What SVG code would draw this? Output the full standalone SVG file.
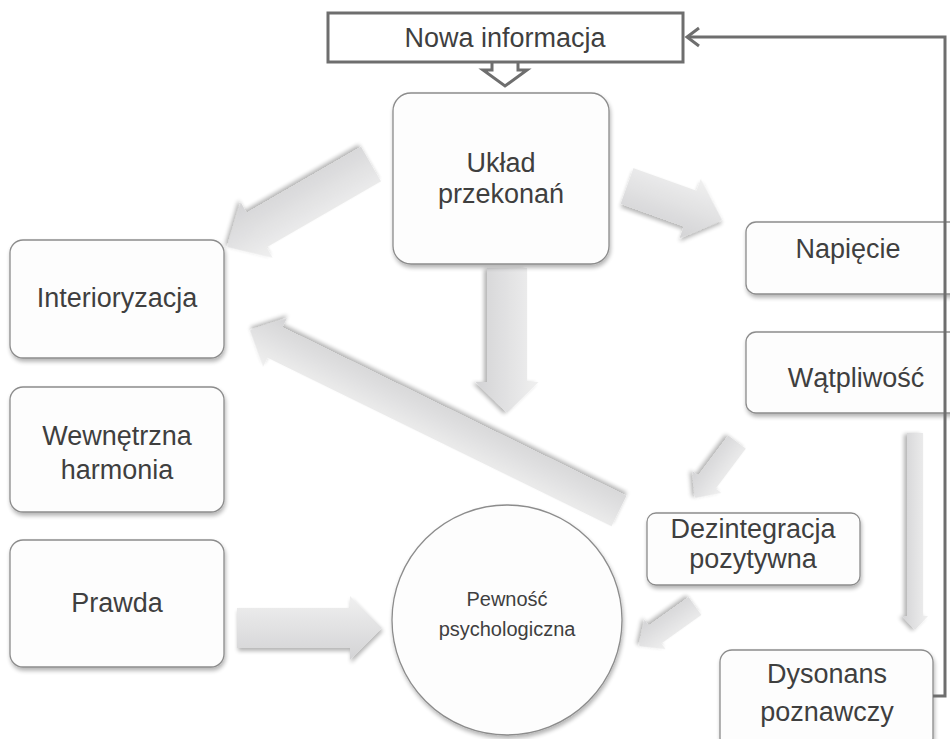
<svg xmlns="http://www.w3.org/2000/svg" width="950" height="739" viewBox="0 0 950 739">
  <defs>
    <linearGradient id="arrowFill" x1="0" y1="0" x2="0" y2="1">
      <stop offset="0" stop-color="#f0f0f0"/>
      <stop offset="1" stop-color="#d3d3d5"/>
    </linearGradient>
    <filter id="softShadow" x="-20%" y="-20%" width="140%" height="140%">
      <feGaussianBlur in="SourceAlpha" stdDeviation="2"/>
      <feOffset dx="1" dy="3" result="blur"/>
      <feComponentTransfer><feFuncA type="linear" slope="0.3"/></feComponentTransfer>
      <feMerge><feMergeNode/><feMergeNode in="SourceGraphic"/></feMerge>
    </filter>
  </defs>
  <style>
    .box { fill: #fdfdfd; stroke: #8c8c8c; stroke-width: 1.3; filter: url(#softShadow); }
    .label { font-family: "Liberation Sans", Arial, sans-serif; font-size: 27px; fill: #3f3f3f; text-anchor: middle; }
    .small { font-size: 20px; }
    .block { fill: url(#arrowFill); filter: url(#softShadow); }
    .dark { fill: none; stroke: #6e6e6e; stroke-width: 3; }
  </style>

  <rect width="950" height="739" fill="#ffffff"/>

  <!-- block arrows and the hollow arrow -->
  <g id="connectors">
    <path d="M492,62 V70 H483 L505,86 L527,70 H518 V62" fill="#ffffff" stroke="#6e6e6e" stroke-width="3" stroke-linejoin="miter"/>
    <polygon class="block" transform="translate(371,164) rotate(150)" points="0,-20 132,-20 132,-32 166,0 132,32 132,20 0,20"/>
    <polygon class="block" transform="translate(627,186) rotate(19.7)" points="0,-19 67,-19 67,-31.5 101,0 67,31.5 67,19 0,19"/>
    <polygon class="block" transform="translate(507,268) rotate(90)" points="0,-20 114,-20 114,-31.5 145,0 114,31.5 114,20 0,20"/>
    <polygon class="block" transform="translate(619,511) rotate(-153.9)" points="0,-17 383,-17 383,-27 411,0 383,27 383,17 0,17"/>
    <polygon class="block" transform="translate(737,442) rotate(126.9)" points="0,-11 50,-11 50,-18 70,0 50,18 50,11 0,11"/>
    <polygon class="block" transform="translate(695,606) rotate(144.5)" points="0,-11 49,-11 49,-18 69,0 49,18 49,11 0,11"/>
    <polygon class="block" transform="translate(237,628)" points="0,-20 113,-20 113,-32 145,0 113,32 113,20 0,20"/>
    <polygon class="block" transform="translate(915,433) rotate(90)" points="0,-8 183,-8 183,-13 197,0 183,13 183,8 0,8"/>
  </g>

  <g id="nowa-informacja">
    <rect x="328" y="13" width="355" height="49" fill="#ffffff" stroke="#6e6e6e" stroke-width="3"/>
    <text class="label" x="505" y="47" font-size="26">Nowa informacja</text>
  </g>

  <g id="uklad-przekonan">
    <rect class="box" x="393" y="93" width="216" height="171" rx="18"/>
    <text class="label" x="501" y="172">Układ</text>
    <text class="label" x="501" y="203">przekonań</text>
  </g>

  <g id="interioryzacja">
    <rect class="box" x="10" y="240" width="214" height="118" rx="13"/>
    <text class="label" x="117" y="307">Interioryzacja</text>
  </g>

  <g id="wewnetrzna-harmonia">
    <rect class="box" x="10" y="387" width="214" height="125" rx="13"/>
    <text class="label" x="117" y="445">Wewnętrzna</text>
    <text class="label" x="117" y="479">harmonia</text>
  </g>

  <g id="prawda">
    <rect class="box" x="10" y="540" width="214" height="127" rx="13"/>
    <text class="label" x="117" y="612">Prawda</text>
  </g>

  <g id="napiecie">
    <rect class="box" x="746" y="222" width="215" height="72" rx="10"/>
    <text class="label" x="848" y="258">Napięcie</text>
  </g>

  <g id="watpliwosc">
    <rect class="box" x="746" y="332" width="215" height="81" rx="10"/>
    <text class="label" x="856" y="387">Wątpliwość</text>
  </g>

  <g id="dezintegracja-pozytywna">
    <rect class="box" x="647" y="513" width="213" height="72" rx="9"/>
    <text class="label" x="753" y="538">Dezintegracja</text>
    <text class="label" x="753" y="568">pozytywna</text>
  </g>

  <g id="pewnosc-psychologiczna">
    <circle class="box" cx="507" cy="620" r="115"/>
    <text class="label small" x="507" y="606">Pewność</text>
    <text class="label small" x="507" y="636">psychologiczna</text>
  </g>

  <g id="dysonans-poznawczy">
    <rect class="box" x="720" y="650" width="213" height="100" rx="12"/>
    <text class="label" x="827" y="683">Dysonans</text>
    <text class="label" x="827" y="721">poznawczy</text>
  </g>

  <!-- feedback loop from the dissonance back to the new information, drawn on top -->
  <g id="feedback-loop">
    <path class="dark" d="M933,696 H945 V37 H687"/>
    <polyline class="dark" points="699,28 687,37 699,46"/>
  </g>
</svg>
